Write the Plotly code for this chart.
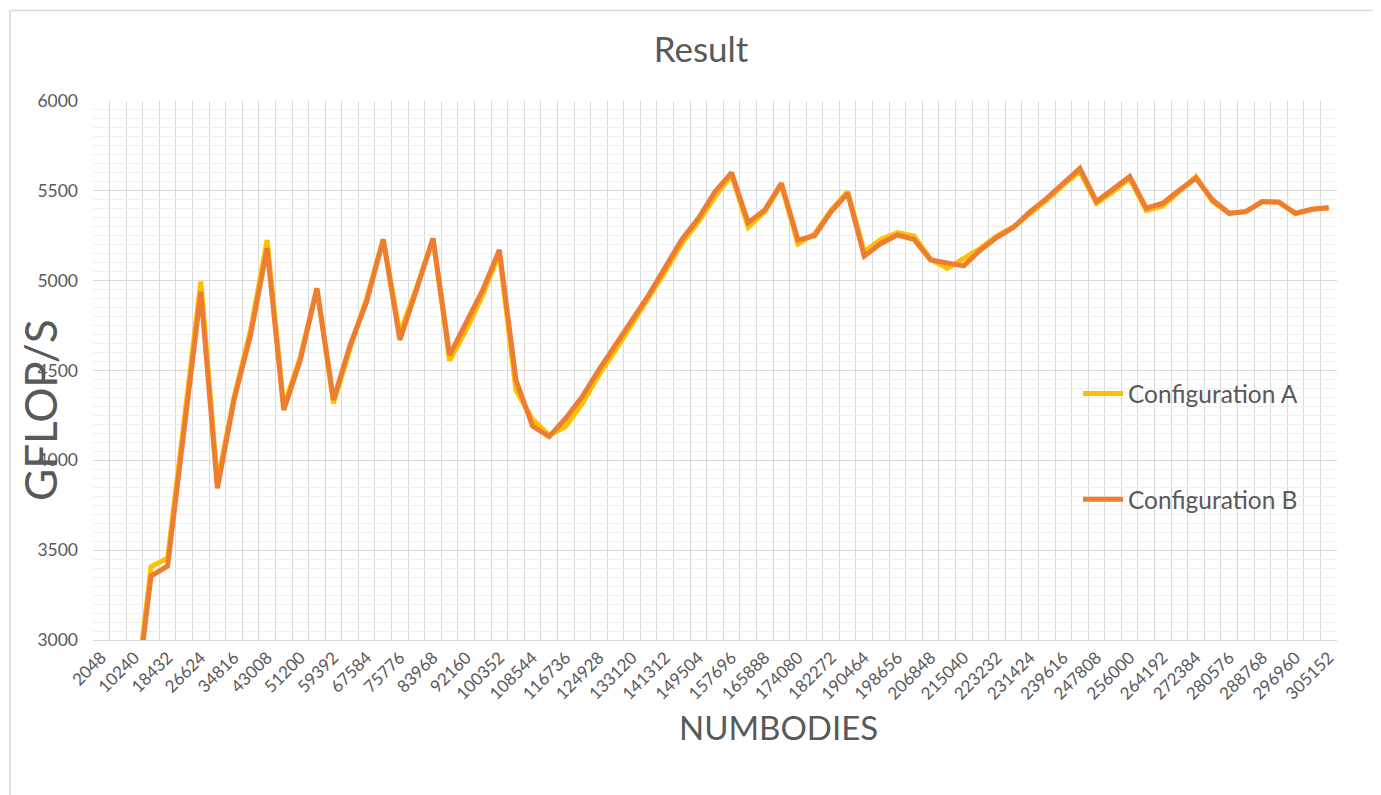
import plotly.graph_objects as go

numbodies = [2048, 6144, 10240, 14336, 18432, 22528, 26624, 30720, 34816, 38912,
             43008, 47104, 51200, 55296, 59392, 63488, 67584, 71680, 75776, 79872,
             83968, 88064, 92160, 96256, 100352, 104448, 108544, 112640, 116736, 120832,
             124928, 129024, 133120, 137216, 141312, 145408, 149504, 153600, 157696, 161792,
             165888, 169984, 174080, 178176, 182272, 186368, 190464, 194560, 198656, 202752,
             206848, 210944, 215040, 219136, 223232, 227328, 231424, 235520, 239616, 243712,
             247808, 251904, 256000, 260096, 264192, 268288, 272384, 276480, 280576, 284672,
             288768, 292864, 296960, 301056, 305152]

config_a = [1100, 1900, 2620, 3408, 3455, 4224, 4995, 3880, 4350, 4726,
            5226, 4300, 4577, 4957, 4317, 4624, 4902, 5230, 4707, 4960,
            5235, 4555, 4726, 4920, 5152, 4391, 4228, 4140, 4188, 4317,
            4475, 4614, 4762, 4897, 5050, 5208, 5328, 5467, 5588, 5297,
            5384, 5533, 5204, 5260, 5393, 5495, 5161, 5230, 5267, 5249,
            5119, 5068, 5124, 5180, 5249, 5300, 5375, 5449, 5533, 5607,
            5430, 5495, 5570, 5390, 5416, 5495, 5579, 5440, 5375, 5384,
            5440, 5437, 5372, 5397, 5406]

config_b = [1050, 1850, 2600, 3356, 3412, 4176, 4939, 3844, 4336, 4698,
            5180, 4280, 4558, 4957, 4336, 4642, 4883, 5230, 4670, 4948,
            5235, 4586, 4763, 4948, 5171, 4447, 4191, 4132, 4234, 4355,
            4503, 4642, 4790, 4920, 5074, 5230, 5347, 5495, 5601, 5323,
            5393, 5542, 5226, 5250, 5384, 5486, 5137, 5207, 5254, 5230,
            5115, 5096, 5082, 5171, 5241, 5297, 5384, 5458, 5542, 5625,
            5440, 5509, 5579, 5403, 5431, 5505, 5570, 5449, 5375, 5384,
            5440, 5437, 5375, 5397, 5406]

tick_values = numbodies[::2]
tick_labels = [str(v) for v in tick_values]

step = numbodies[1] - numbodies[0]
FONT = "Lato"
GREY = "#595959"

# page body has an 8px margin; figure sized/positioned to compensate
W, H = 1373, 787
PL, PR, PT, PB = 85, 1329, 93, 632  # plot area in figure pixels
PW, PH = PR - PL, PB - PT


def px(xw):  # window x -> paper x
    return (xw - 8 - PL) / PW


def py(yw):  # window y -> paper y
    return (PB - (yw - 8)) / PH


fig = go.Figure()
fig.add_trace(go.Scatter(x=numbodies, y=config_a, mode="lines", name="Configuration A",
                         legendgroup="a", line=dict(color="#FFC000", width=5)))
fig.add_trace(go.Scatter(x=numbodies, y=config_b, mode="lines", name="Configuration B",
                         legendgroup="b", line=dict(color="#ED7D31", width=5)))

fig.update_layout(
    width=W, height=H,
    margin=dict(l=PL, r=W - PR, t=PT, b=H - PB),
    paper_bgcolor="white", plot_bgcolor="white",
    font=dict(family=FONT, color=GREY),
    title=dict(text="Result", x=(701 - 8) / W, xref="container", xanchor="center",
               y=1 - (50 - 8) / H, yanchor="middle", font=dict(size=35, color=GREY, family=FONT)),
    showlegend=True,
    legend=dict(x=px(1078), y=py(371), xanchor="left", yanchor="top",
                font=dict(size=24.5, color=GREY, family=FONT),
                itemwidth=40,
                tracegroupgap=71, bgcolor="rgba(0,0,0,0)", borderwidth=0),
    xaxis=dict(
        type="linear",
        range=[numbodies[0] - step / 2, numbodies[-1] + step / 2],
        tickmode="array", tickvals=tick_values, ticktext=tick_labels,
        tickangle=-45, tickfont=dict(size=17, color=GREY, family=FONT),
        showgrid=False, zeroline=False,
        showline=True, linecolor="#d9d9d9", linewidth=1,
        ticks="",
        minor=dict(tickmode="linear", tick0=numbodies[0] - step / 2, dtick=step,
                   showgrid=True, gridcolor="#d9d9d9", gridwidth=1, ticks=""),
    ),
    yaxis=dict(
        range=[3000, 6000], dtick=500, tick0=3000,
        tickfont=dict(size=17.5, color=GREY, family=FONT),
        showgrid=True, gridcolor="#d9d9d9", gridwidth=1,
        zeroline=False, showline=False, ticks="",
        ticklabelstandoff=14,
        minor=dict(dtick=50, showgrid=True, gridcolor="#efefef", gridwidth=1, ticks=""),
    ),
    annotations=[
        dict(text="NUMBODIES", x=px(778), y=py(727),
             xref="paper", yref="paper", showarrow=False, xanchor="center", yanchor="middle",
             font=dict(size=33, color=GREY, family=FONT)),
        dict(text="GFLOP/S", x=px(40), y=py(410),
             xref="paper", yref="paper", showarrow=False, xanchor="center", yanchor="middle",
             textangle=-90, font=dict(size=44, color=GREY, family=FONT)),
    ],
    shapes=[
        dict(type="rect", xref="paper", yref="paper",
             x0=px(10), x1=px(1400), y0=py(810), y1=py(10.5),
             line=dict(color="#d9d9d9", width=1.5), fillcolor="rgba(0,0,0,0)", layer="below"),
    ],
)

fig.write_html("out.html")
